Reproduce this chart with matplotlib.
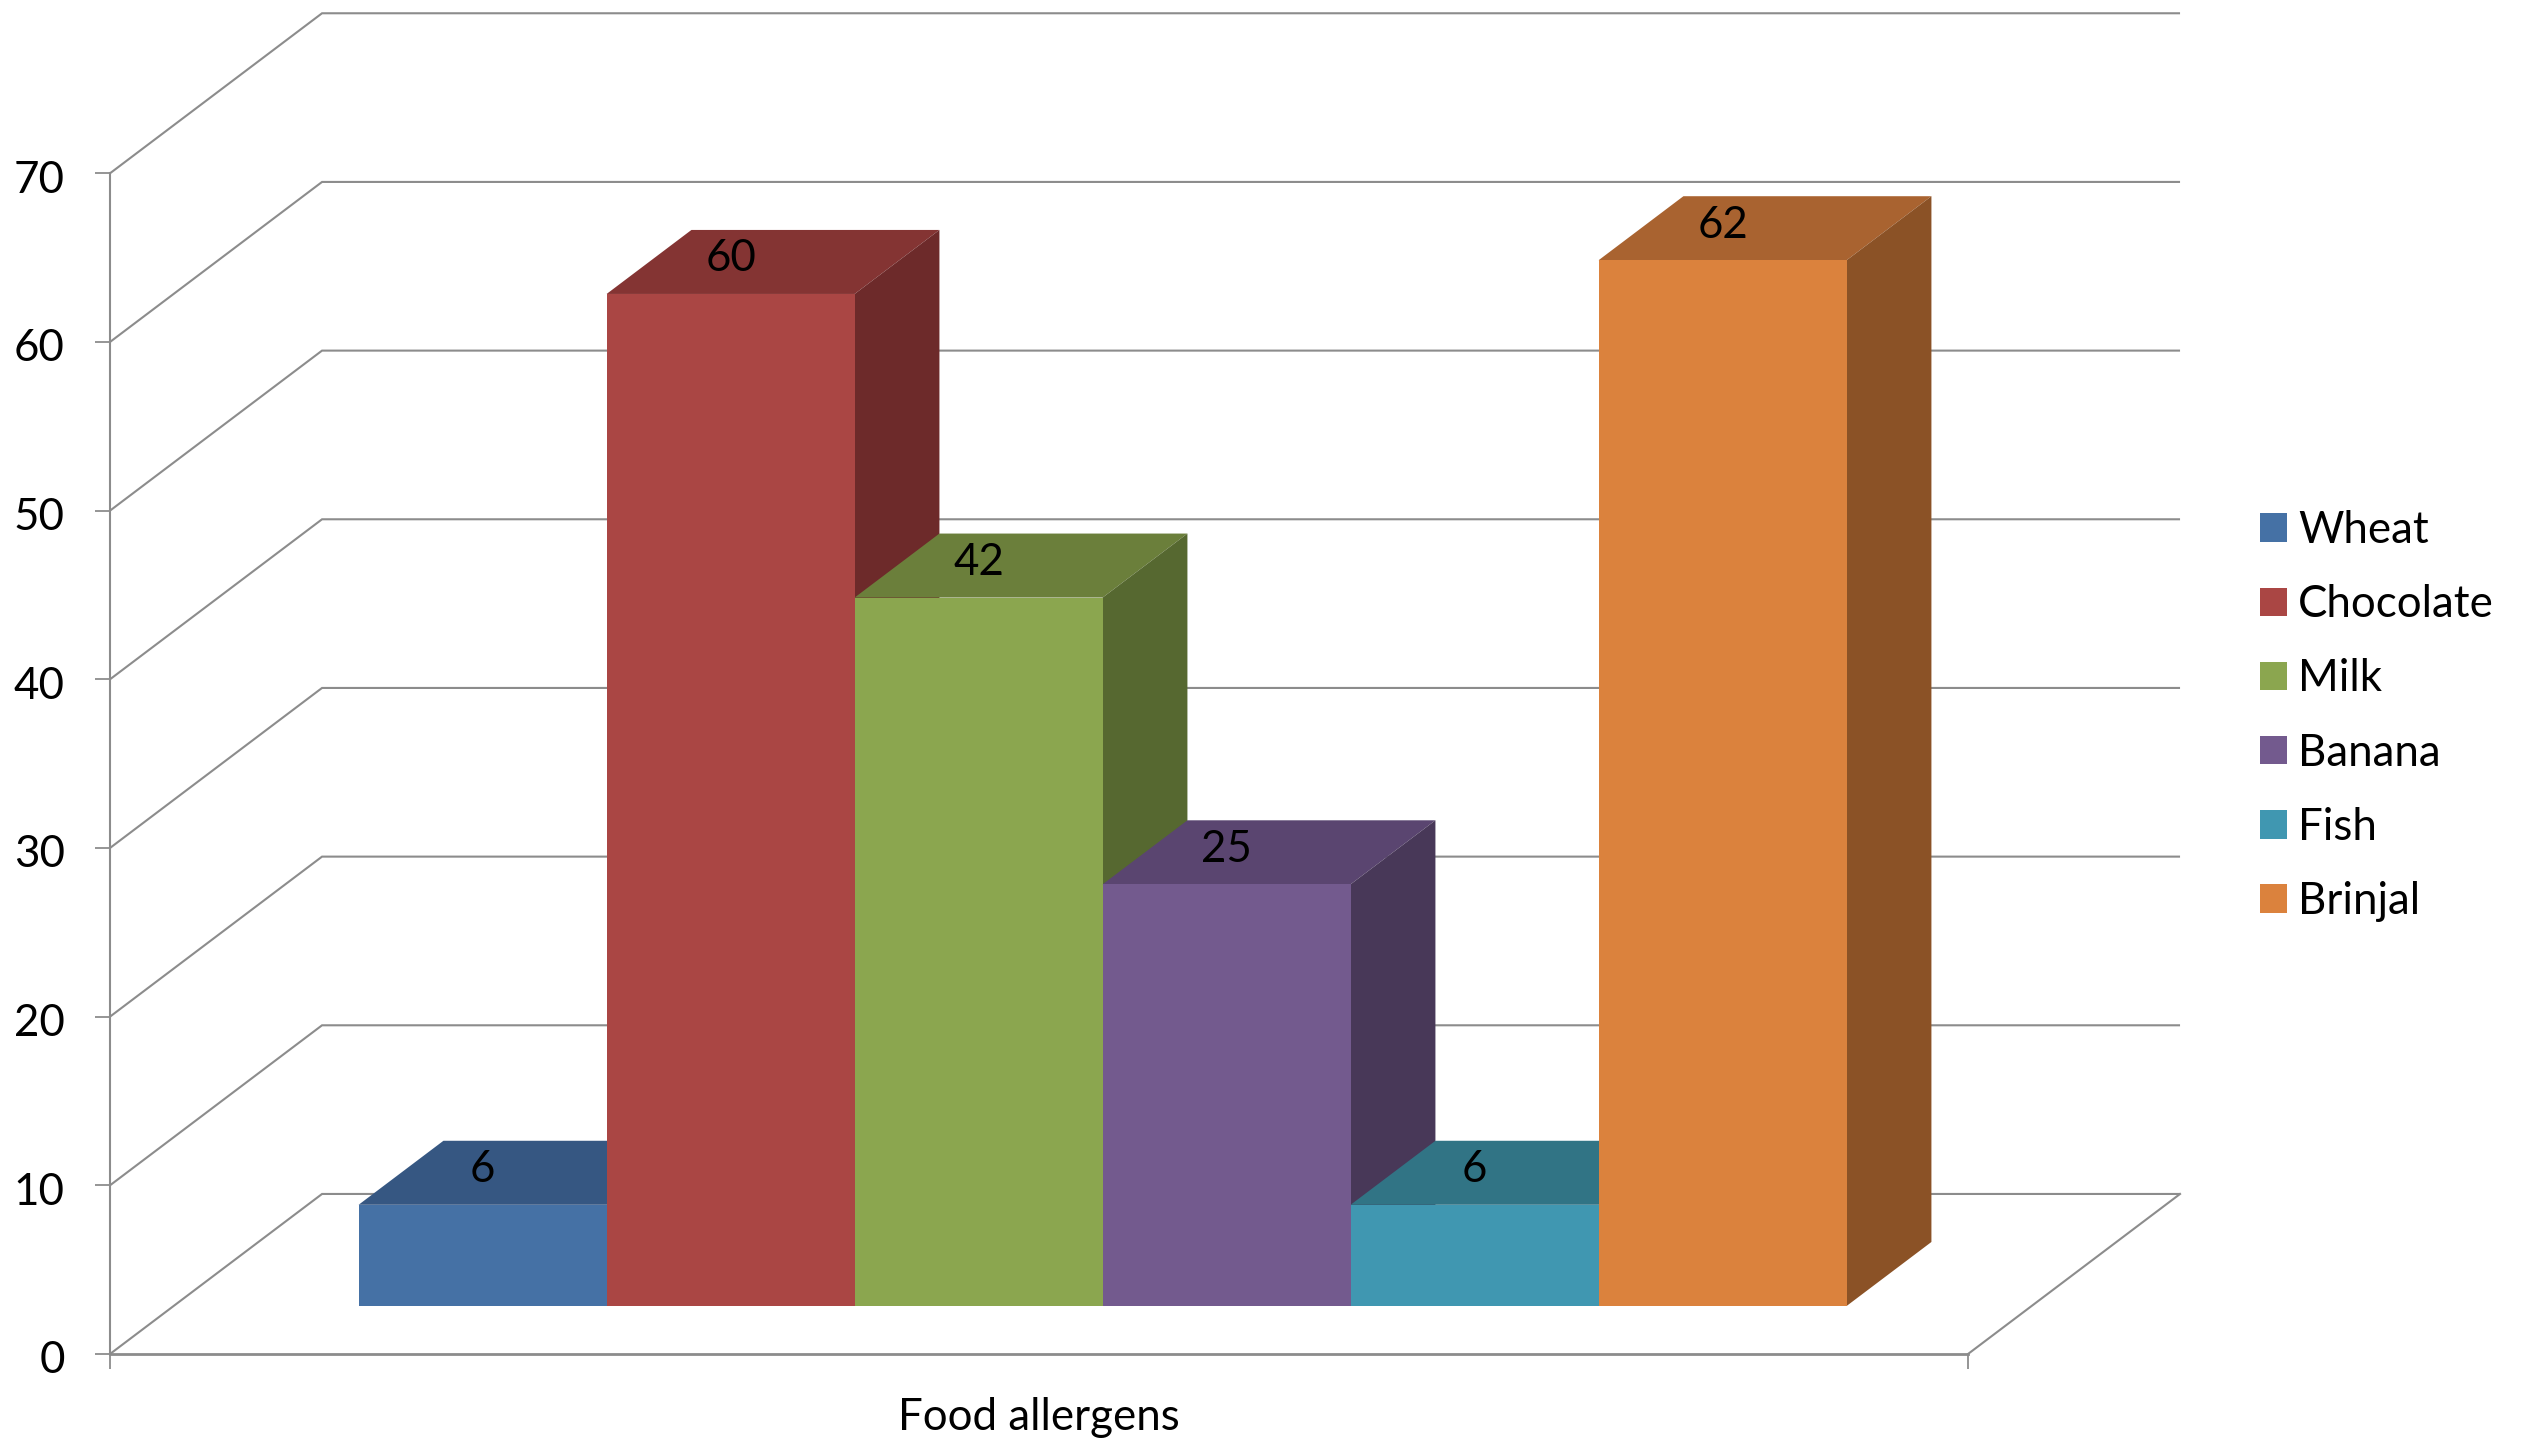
import matplotlib
matplotlib.use("Agg")
import matplotlib.pyplot as plt
from matplotlib.patches import Patch, Polygon
from matplotlib.transforms import ScaledTranslation

plt.rcParams["font.family"] = ["Lato", "DejaVu Sans"]

# Food allergen counts, one series per allergen
categories = ["Wheat", "Chocolate", "Milk", "Banana", "Fish", "Brinjal"]
values = [6, 60, 42, 25, 6, 62]
group_label = "Food allergens"
y_ticks = list(range(0, 80, 10))

front_colors = ["#4571A5", "#AA4644", "#8BA64F", "#735A8E", "#4097B1", "#DB823D"]
top_colors = ["#365782", "#843433", "#6B7F3B", "#5A4570", "#317485", "#A96330"]
side_colors = ["#2F4B70", "#6D2A2A", "#566830", "#483858", "#2A6272", "#8B5226"]

GRID = "#8C8C8C"
FONT = 31.6

# Oblique projection: depth 0 is the front plane, depth 1 the back wall
X_MAX = 7.492
DEPTH_X = 0.855
DEPTH_Y = 9.488
BAR_FRONT = 0.30
BAR_BACK = 0.70


def project(x, y, depth):
    return (x + depth * DEPTH_X, y + depth * DEPTH_Y)


W, H = 2526, 1439
fig = plt.figure(figsize=(W / 100, H / 100), dpi=100, facecolor="white")
ax = fig.add_axes([110 / W, 1 - 1354 / H, 1858 / W, (1354 - 173.3) / H])
ax.set_xlim(0, X_MAX)
ax.set_ylim(0, 70)
ax.patch.set_visible(False)

# Frame: left and bottom axes with outward ticks
for name in ("top", "right"):
    ax.spines[name].set_visible(False)
ax.spines["left"].set_color(GRID)
ax.spines["left"].set_linewidth(1.5)
ax.spines["bottom"].set_color(GRID)
ax.spines["bottom"].set_linewidth(2.0)
ax.set_yticks(y_ticks)
ax.set_xticks([0, X_MAX])
ax.set_xticklabels([])
ax.tick_params(axis="y", length=10.5, width=1.3, color=GRID, pad=22,
               labelsize=FONT, labelcolor="black")
ax.tick_params(axis="x", length=10.5, width=1.3, color=GRID)

# Nudge the value-axis labels down a little from their ticks
label_shift = ScaledTranslation(0, -2 / 72, fig.dpi_scale_trans)
for label in ax.get_yticklabels():
    label.set_transform(label.get_transform() + label_shift)

# Gridlines fold from the front plane up the side wall and along the back wall
for tick in y_ticks:
    pts = [project(0, tick, 0), project(0, tick, 1), project(X_MAX, tick, 1)]
    ax.plot(*zip(*pts), color=GRID, lw=1.5, clip_on=False, zorder=1,
            solid_joinstyle="miter", solid_capstyle="butt")
floor = [project(X_MAX, 0, 0), project(X_MAX, 0, 1)]
ax.plot(*zip(*floor), color=GRID, lw=1.5, clip_on=False, zorder=1)

# Boxes run left to right so each front face covers its neighbour's side
margin = (X_MAX - len(values)) / 2
for i, value in enumerate(values):
    x0 = margin + i
    x1 = x0 + 1
    z = 2 + i
    top = [project(x0, value, BAR_FRONT), project(x1, value, BAR_FRONT),
           project(x1, value, BAR_BACK), project(x0, value, BAR_BACK)]
    side = [project(x1, 0, BAR_FRONT), project(x1, 0, BAR_BACK),
            project(x1, value, BAR_BACK), project(x1, value, BAR_FRONT)]
    front = [project(x0, 0, BAR_FRONT), project(x1, 0, BAR_FRONT),
             project(x1, value, BAR_FRONT), project(x0, value, BAR_FRONT)]
    for pts, colour in ((top, top_colors[i]), (side, side_colors[i]), (front, front_colors[i])):
        ax.add_patch(Polygon(pts, closed=True, facecolor=colour, edgecolor="none",
                             clip_on=False, zorder=z))

# Value labels sit on the top face, over the centre of the front edge
for i, value in enumerate(values):
    label_y = project(0, value, 0.52)[1]
    ax.text(margin + i + 0.5 + BAR_FRONT * DEPTH_X, label_y, str(value), ha="center",
            va="center", fontsize=FONT, color="black", zorder=20, clip_on=False)

ax.text(X_MAX / 2, -3.78, group_label, ha="center", va="center", fontsize=FONT,
        color="black", clip_on=False)

handles = [Patch(facecolor=c, edgecolor="none", label=n)
           for c, n in zip(front_colors, categories)]
fig.legend(handles=handles, loc="center left", bbox_to_anchor=(2260 / W, 1 - 716 / H),
           frameon=False, fontsize=FONT, borderpad=0, borderaxespad=0,
           handlelength=0.614, handleheight=0.614, handletextpad=0.25,
           labelspacing=0.757)

fig.savefig("out.png", dpi=100, facecolor="white")
